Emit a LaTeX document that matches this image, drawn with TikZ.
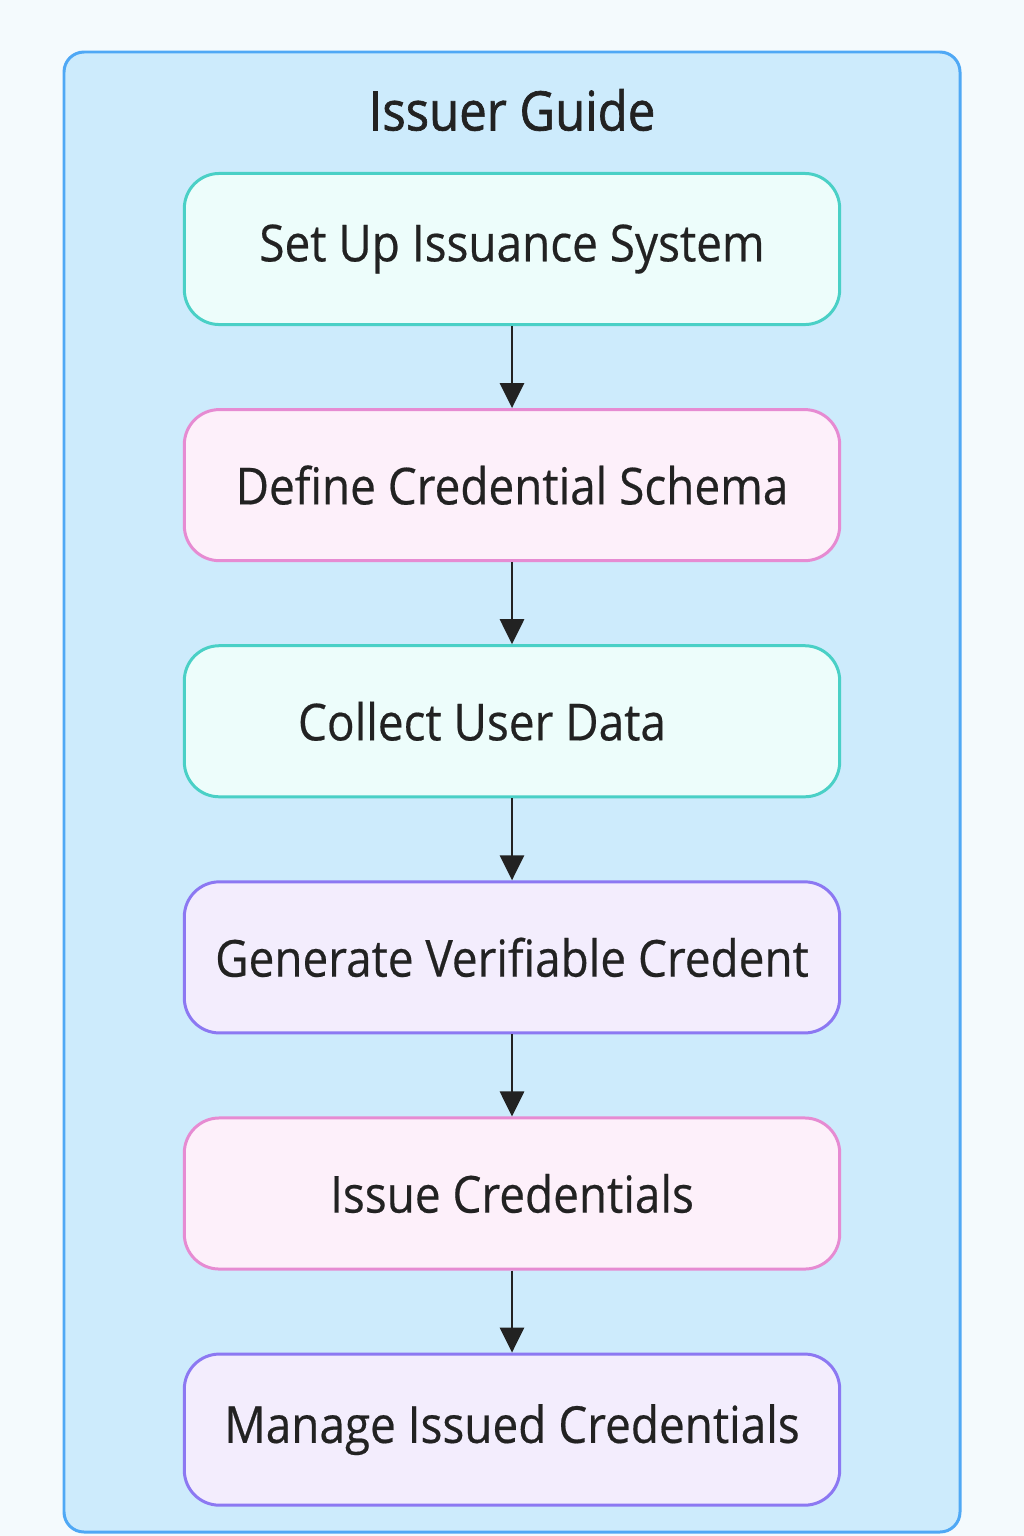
\documentclass[tikz,border=0pt]{standalone}
\usepackage{fontspec}
\setmainfont[FakeStretch=0.9,FakeBold=0.4]{Open Sans}
\newfontfamily\titlefont[FakeStretch=0.9,FakeBold=1.2]{Open Sans}
\usetikzlibrary{positioning,arrows.meta}
\definecolor{pagebg}{HTML}{F4FAFD}
\definecolor{groupfill}{HTML}{CDEBFC}
\definecolor{groupline}{HTML}{4FA8F5}
\definecolor{tealline}{HTML}{4AD0C6}
\definecolor{tealfill}{HTML}{EDFDFB}
\definecolor{pinkline}{HTML}{E68BD2}
\definecolor{pinkfill}{HTML}{FDF0FA}
\definecolor{violetline}{HTML}{8C78F2}
\definecolor{violetfill}{HTML}{F3EDFD}
\definecolor{arrowink}{HTML}{222222}
\tikzset{
  stepbox/.style={draw, line width=0.85pt, rounded corners=0.35cm,
    minimum width=6.55cm, minimum height=1.51cm, text=arrowink,
    font=\fontsize{14.5}{17}\selectfont},
  stepteal/.style={stepbox, draw=tealline, fill=tealfill},
  steppink/.style={stepbox, draw=pinkline, fill=pinkfill},
  stepviolet/.style={stepbox, draw=violetline, fill=violetfill},
  flow/.style={-{Triangle[length=0.25cm,width=0.24cm]}, line width=0.8pt, arrowink}
}
\begin{document}
\begin{tikzpicture}[x=0.01cm,y=-0.01cm,node distance=0.82cm]
\fill[pagebg](0,0)rectangle(1024,1536);
\useasboundingbox(0,0)rectangle(1024,1536);
\draw[groupline,fill=groupfill,line width=0.85pt,rounded corners=0.2cm](64,52)rectangle(960,1532);
\node[text=arrowink,font=\titlefont\fontsize{15.5}{18}\selectfont](title)at(512,110){Issuer Guide};
% steps
\node[stepteal](setup)at(512,249){Set Up Issuance System};
\node[steppink,below=of setup](schema){Define Credential Schema};
\node[stepteal,below=of schema](collect){Collect User Data\kern0.6cm\relax};
\node[stepviolet,below=of collect](generate){Generate Verifiable Credent};
\node[steppink,below=of generate](issue){Issue Credentials};
\node[stepviolet,below=of issue](manage){Manage Issued Credentials};
\draw[flow](setup)--(schema);
\draw[flow](schema)--(collect);
\draw[flow](collect)--(generate);
\draw[flow](generate)--(issue);
\draw[flow](issue)--(manage);
\end{tikzpicture}
\end{document}
